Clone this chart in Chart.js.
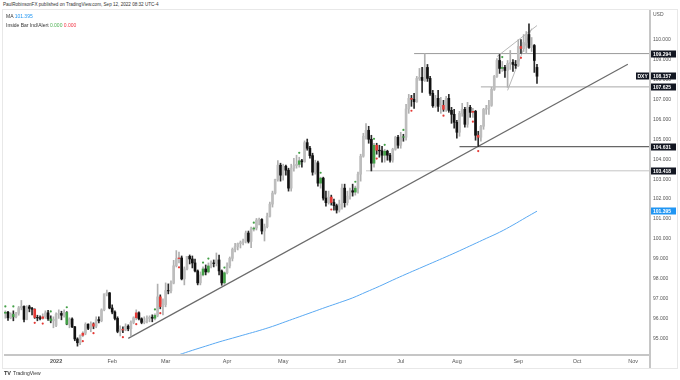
<!DOCTYPE html>
<html>
<head>
<meta charset="utf-8">
<script src="https://cdn.jsdelivr.net/npm/chart.js@4.4.0/dist/chart.umd.min.js"></script>
<style>
  body { margin: 0; width: 680px; height: 380px; background: #fff; position: relative; overflow: hidden;
         font-family: 'Liberation Sans', Arial, sans-serif; }
  #pub { position: absolute; left: 3px; top: 2px; font-size: 4.6px; color: #333; white-space: nowrap; }
  #frame { position: absolute; left: 2px; top: 9px; width: 676px; height: 360px; border: 1px solid #e8e8e8; box-sizing: border-box; }
  #legend { position: absolute; left: 6px; top: 12px; font-size: 5px; color: #333; line-height: 9px; white-space: nowrap; }
  #foot { position: absolute; left: 4px; top: 370px; font-size: 5px; color: #333; white-space: nowrap; }
  #foot b { font-size: 5.5px; margin-right: 2px; }
  canvas { position: absolute; left: 0; top: 0; }
</style>
</head>
<body>
<div id="pub">PaulRobinsonFX published on TradingView.com, Sep 12, 2022 08:32 UTC-4</div>
<div id="frame"></div>
<canvas id="chart" width="680" height="380"></canvas>
<div id="legend">
  <div>MA <span style="color:#2196f3">101.395</span></div>
  <div>Inside Bar Ind/Alert <span style="color:#4caf50">0.000</span> <span style="color:#f23645">0.000</span></div>
</div>
<div id="foot"><b>TV</b>TradingView</div>
<script>
// daily OHLC [open, high, low, close], one small list per month
const dec21 = [
  [96.28, 96.40, 96.03, 96.33], [96.33, 96.38, 95.92, 96.05], [96.05, 96.30, 96.00, 96.23], [96.23, 96.40, 95.90, 96.10],
  [96.10, 96.32, 96.05, 96.28], [96.28, 96.62, 96.18, 96.55], [96.55, 96.92, 96.45, 96.62], [96.62, 96.65, 95.85, 95.97],
  [95.97, 96.66, 95.95, 96.60], [96.60, 96.68, 96.35, 96.52], [96.52, 96.58, 96.20, 96.48], [96.48, 96.50, 96.02, 96.07],
  [96.07, 96.18, 95.90, 96.05], [96.05, 96.15, 95.95, 96.02], [96.02, 96.25, 95.98, 96.10], [96.10, 96.40, 96.02, 96.30],
  [96.30, 96.42, 95.92, 96.00], [96.00, 96.15, 95.80, 95.90], [95.90, 96.10, 95.55, 95.97]
];
const jan22 = [
  [95.67, 96.30, 95.60, 96.22], [96.22, 96.45, 96.02, 96.27], [96.27, 96.38, 95.95, 96.18], [96.18, 96.45, 96.08, 96.32],
  [96.32, 96.36, 95.70, 95.73], [95.73, 96.05, 95.55, 95.99], [95.99, 96.05, 95.55, 95.60], [95.60, 95.62, 94.90, 94.99],
  [94.99, 95.05, 94.63, 94.80], [94.80, 95.20, 94.70, 95.17], [95.17, 95.35, 95.10, 95.28], [95.28, 95.80, 95.20, 95.73],
  [95.73, 95.75, 95.45, 95.52], [95.52, 95.85, 95.35, 95.75], [95.75, 95.80, 95.50, 95.63], [95.63, 96.10, 95.55, 95.96],
  [95.96, 96.10, 95.80, 95.90], [95.90, 96.50, 95.85, 96.45], [96.45, 97.25, 96.40, 97.25], [97.25, 97.44, 97.15, 97.30],
  [97.30, 97.32, 96.50, 96.54]
];
const feb22 = [
  [96.54, 96.70, 96.25, 96.34], [96.34, 96.40, 95.95, 96.02], [96.02, 96.10, 95.30, 95.37], [95.37, 95.65, 95.14, 95.48],
  [95.48, 95.60, 95.30, 95.44], [95.44, 95.75, 95.40, 95.63], [95.63, 95.70, 95.40, 95.50], [95.50, 95.90, 95.14, 95.82],
  [95.82, 96.10, 95.75, 96.05], [96.05, 96.45, 95.95, 96.30], [96.30, 96.35, 95.95, 96.00], [96.00, 96.05, 95.75, 95.82],
  [95.82, 96.10, 95.75, 95.88], [95.88, 96.15, 95.80, 96.02], [96.02, 96.15, 95.85, 96.08], [96.08, 96.20, 95.85, 96.03],
  [96.03, 96.25, 95.95, 96.17], [96.17, 97.74, 96.10, 97.10], [97.10, 97.20, 96.50, 96.61], [96.61, 97.00, 96.20, 96.71]
];
const mar22 = [
  [96.71, 97.80, 96.60, 97.42], [97.42, 97.75, 97.25, 97.40], [97.40, 97.90, 97.30, 97.79], [97.79, 98.93, 97.75, 98.66],
  [98.66, 99.42, 98.60, 99.02], [99.02, 99.35, 98.80, 99.05], [99.05, 99.15, 97.95, 98.00], [98.00, 98.60, 97.70, 98.50],
  [98.50, 99.10, 98.45, 99.13], [99.13, 99.20, 98.75, 99.00], [99.00, 99.15, 98.55, 98.80], [98.80, 99.00, 98.35, 98.40],
  [98.40, 98.45, 97.70, 97.80], [97.80, 98.35, 97.70, 98.20], [98.20, 98.60, 98.15, 98.50], [98.50, 98.70, 98.20, 98.35],
  [98.35, 98.80, 98.30, 98.65], [98.65, 98.90, 98.55, 98.80], [98.80, 98.95, 98.60, 98.77], [98.77, 99.30, 98.65, 98.95],
  [98.95, 99.20, 98.20, 98.40], [98.40, 98.45, 97.68, 97.80], [97.80, 98.35, 97.72, 98.31]
];
const apr22 = [
  [98.31, 98.80, 98.25, 98.65], [98.65, 99.10, 98.55, 99.03], [99.03, 99.55, 98.90, 99.48], [99.48, 99.78, 99.35, 99.62],
  [99.62, 99.80, 99.45, 99.77], [99.77, 99.90, 99.55, 99.82], [99.82, 100.00, 99.70, 99.90], [99.90, 100.40, 99.80, 100.30],
  [100.30, 100.40, 99.80, 99.88], [99.88, 100.60, 99.57, 100.50], [100.50, 100.60, 100.40, 100.55], [100.55, 101.03, 100.45, 100.95],
  [100.95, 101.05, 100.70, 100.98], [100.98, 101.02, 100.25, 100.40], [100.40, 100.75, 99.90, 100.62], [100.62, 101.30, 100.55, 101.14],
  [101.14, 101.85, 101.10, 101.75], [101.75, 102.40, 101.60, 102.30], [102.30, 103.00, 102.25, 102.98], [102.98, 103.93, 102.90, 103.70],
  [103.70, 103.80, 102.90, 103.20]
];
const may22 = [
  [103.20, 103.75, 102.95, 103.65], [103.65, 103.70, 103.20, 103.45], [103.45, 103.55, 102.40, 102.55], [102.55, 103.75, 102.40, 103.55],
  [103.55, 104.05, 103.40, 103.68], [103.68, 104.20, 103.55, 103.74], [103.74, 104.10, 103.60, 103.92], [103.92, 104.00, 103.60, 103.87],
  [103.87, 104.92, 103.85, 104.83], [104.83, 105.01, 104.45, 104.55], [104.55, 104.65, 104.05, 104.18], [104.18, 104.30, 103.20, 103.35],
  [103.35, 103.95, 103.25, 103.82], [103.82, 103.90, 102.65, 102.80], [102.80, 103.10, 102.55, 103.05], [103.05, 103.10, 101.95, 102.05],
  [102.05, 102.40, 101.65, 101.82], [101.82, 102.40, 101.75, 102.10], [102.10, 102.20, 101.70, 101.83], [101.83, 102.00, 101.45, 101.67],
  [101.67, 101.75, 101.30, 101.45], [101.45, 101.95, 101.35, 101.75]
];
const jun22 = [
  [101.75, 102.75, 101.50, 102.55], [102.55, 102.75, 101.60, 101.82], [101.82, 102.40, 101.70, 102.15], [102.15, 102.55, 102.00, 102.42],
  [102.42, 102.75, 102.15, 102.35], [102.35, 102.65, 102.20, 102.55], [102.55, 103.35, 102.30, 103.25], [103.25, 104.25, 102.90, 104.15],
  [104.15, 105.30, 104.10, 105.15], [105.15, 105.79, 105.00, 105.45], [105.45, 105.65, 104.80, 105.00], [105.00, 105.20, 103.41, 103.80],
  [103.80, 104.80, 103.60, 104.70], [104.70, 104.80, 104.25, 104.45], [104.45, 104.70, 104.10, 104.42], [104.42, 104.65, 103.85, 104.20],
  [104.20, 104.50, 103.85, 104.40], [104.40, 104.45, 103.95, 104.20], [104.20, 104.30, 103.85, 103.95], [103.95, 104.55, 103.85, 104.50],
  [104.50, 105.15, 104.45, 105.10], [105.10, 105.20, 104.55, 104.70]
];
const jul22 = [
  [104.70, 105.35, 104.55, 105.13], [105.13, 105.25, 104.90, 105.10], [105.10, 106.75, 104.95, 106.52], [106.52, 107.25, 106.30, 107.05],
  [107.05, 107.20, 106.65, 107.00], [107.00, 107.30, 106.55, 106.88], [106.88, 108.15, 106.85, 108.05], [108.05, 108.55, 107.95, 108.10],
  [108.10, 108.60, 107.35, 107.95], [107.95, 109.29, 107.90, 108.60], [108.60, 108.75, 107.90, 108.05], [108.05, 108.15, 107.20, 107.30],
  [107.30, 107.45, 106.60, 106.68], [106.68, 107.20, 106.60, 107.05], [107.05, 107.45, 106.40, 106.65], [106.65, 107.10, 106.30, 106.70],
  [106.70, 106.95, 106.40, 106.50], [106.50, 107.15, 106.40, 107.05], [107.05, 107.25, 106.35, 106.45], [106.45, 106.60, 105.80, 106.25],
  [106.25, 106.50, 105.55, 105.85]
];
const aug22 = [
  [105.85, 105.95, 105.05, 105.35], [105.35, 106.40, 105.15, 106.30], [106.30, 106.80, 106.15, 106.50], [106.50, 106.60, 105.60, 105.75],
  [105.75, 106.85, 105.60, 106.60], [106.60, 106.70, 106.10, 106.35], [106.35, 106.55, 106.10, 106.40], [106.40, 106.45, 104.95, 105.20],
  [105.20, 105.40, 104.63, 105.10], [105.10, 105.70, 104.90, 105.65], [105.65, 106.55, 105.50, 106.50], [106.50, 106.70, 106.25, 106.55],
  [106.55, 106.95, 106.25, 106.70], [106.70, 107.60, 106.65, 107.50], [107.50, 108.20, 107.45, 108.15], [108.15, 109.05, 108.10, 108.95],
  [108.95, 109.25, 108.30, 108.55], [108.55, 108.90, 108.40, 108.60], [108.60, 108.70, 108.10, 108.45], [108.45, 108.95, 107.60, 108.80],
  [108.80, 109.45, 108.50, 108.85], [108.85, 109.00, 108.40, 108.75], [108.75, 108.95, 108.55, 108.70]
];
const sep22 = [
  [108.70, 109.99, 108.65, 109.65], [109.65, 110.00, 109.30, 109.55], [109.55, 110.25, 109.40, 109.85], [109.85, 110.40, 109.30, 110.25],
  [110.25, 110.79, 109.55, 109.60], [109.60, 110.10, 109.40, 109.70], [109.70, 109.75, 108.35, 108.95], [108.60, 108.75, 107.80, 108.16]
];

// 200-day MA
const maDates = ['2022-03-03', '2022-03-08', '2022-03-15', '2022-03-22', '2022-03-29', '2022-04-05', '2022-04-12', '2022-04-19',
  '2022-04-26', '2022-05-03', '2022-05-10', '2022-05-17', '2022-05-24', '2022-05-31', '2022-06-07', '2022-06-14', '2022-06-21',
  '2022-06-28', '2022-07-05', '2022-07-12', '2022-07-19', '2022-07-26', '2022-08-02', '2022-08-09', '2022-08-16', '2022-08-23',
  '2022-08-30', '2022-09-06', '2022-09-12'];
const maValues = [94.08, 94.20, 94.42, 94.63, 94.84, 95.03, 95.22, 95.41, 95.62, 95.86, 96.10, 96.34, 96.58, 96.81, 97.05, 97.34,
  97.63, 97.94, 98.24, 98.53, 98.82, 99.11, 99.41, 99.72, 100.03, 100.34, 100.70, 101.09, 101.395];

// drawn levels: price and the day the line starts
const levelPrices = [109.294, 107.625, 104.631, 103.418];
const levelStarts = ['2022-07-08', '2022-08-12', '2022-08-02', '2022-06-14'];
const levelColors = ['#9a9a9a', '#a8a8a8', '#666666', '#c4c4c4'];
const lastPrice = 108.157;
const maLast = 101.395;

// trend line and wedge: [date, price] endpoints
const trendLine = [['2022-02-09', 95.02], ['2022-10-28', 108.76]];
const wedgeUpper = [['2022-08-22', 109.14], ['2022-09-12', 110.70]];
const wedgeLower = [['2022-08-26', 107.45], ['2022-09-08', 110.55]];

// inside bar indicator hits
const insideUp = ['2021-12-07', '2021-12-10', '2021-12-30', '2022-01-07', '2022-02-23', '2022-03-21', '2022-03-23', '2022-03-31',
  '2022-04-15', '2022-05-10', '2022-05-20', '2022-06-08', '2022-06-17', '2022-06-23', '2022-07-04', '2022-08-24'];
const insideDown = ['2021-12-22', '2021-12-27', '2022-01-17', '2022-01-21', '2022-02-07', '2022-02-14', '2022-02-25', '2022-03-08',
  '2022-05-26', '2022-06-20', '2022-07-07', '2022-07-25', '2022-08-09', '2022-08-11', '2022-09-02'];

const tickDates = ['2022-01-03', '2022-02-01', '2022-03-01', '2022-04-01', '2022-05-02', '2022-06-01', '2022-07-01', '2022-08-01',
  '2022-09-01', '2022-10-03', '2022-11-01'];
const tickLabels = ['2022', 'Feb', 'Mar', 'Apr', 'May', 'Jun', 'Jul', 'Aug', 'Sep', 'Oct', 'Nov'];
const priceTicks = [95, 96, 97, 98, 99, 100, 101, 102, 103, 104, 105, 106, 107, 108, 109, 110];

// weekday calendar from the first bar
const days = [];
for (let d = new Date(Date.UTC(2021, 11, 7)); days.length < 245; d.setUTCDate(d.getUTCDate() + 1)) {
  const wd = d.getUTCDay();
  if (wd !== 0 && wd !== 6) days.push(d.toISOString().slice(0, 10));
}
const dayIdx = s => days.indexOf(s);

const candles = [].concat(dec21, jan22, feb22, mar22, apr22, may22, jun22, jul22, aug22, sep22);
const upSet = new Set(insideUp.map(dayIdx));
const downSet = new Set(insideDown.map(dayIdx));

const bodyColors = candles.map((c, i) => upSet.has(i) ? '#43a047' : downSet.has(i) ? '#e53935' : (c[3] >= c[0] ? '#bdbdbd' : '#111111'));
const wickColors = candles.map(c => c[3] >= c[0] ? '#b0b0b0' : '#2a2a2a');

const pts = arr => arr.map(p => ({ x: dayIdx(p[0]), y: p[1] }));
const lineDs = (data, color, width) => ({
  type: 'line', data, borderColor: color, borderWidth: width, pointRadius: 0, fill: false, tension: 0
});

const datasets = [
  { type: 'bar', data: candles.map((c, i) => ({ x: i, y: [c[0], c[3]] })), backgroundColor: bodyColors, barThickness: 2, grouped: false, order: 1 },
  { type: 'bar', data: candles.map((c, i) => ({ x: i, y: [c[2], c[1]] })), backgroundColor: wickColors, barThickness: 1, grouped: false, order: 2 },
  { type: 'scatter', data: insideUp.map(s => ({ x: dayIdx(s), y: candles[dayIdx(s)][1] + 0.22 })), backgroundColor: '#43a047', pointRadius: 1.1, borderWidth: 0, order: 0 },
  { type: 'scatter', data: insideDown.map(s => ({ x: dayIdx(s), y: candles[dayIdx(s)][2] - 0.22 })), backgroundColor: '#e53935', pointRadius: 1.1, borderWidth: 0, order: 0 },
  Object.assign(lineDs(maDates.map((s, i) => ({ x: dayIdx(s), y: maValues[i] })), '#5aa9f2', 1), { tension: 0.4, order: 3 }),
  Object.assign(lineDs(pts(trendLine), '#6b6b6b', 1.2), { order: 3 }),
  Object.assign(lineDs(pts(wedgeUpper), '#b0b0b0', 0.9), { order: 3 }),
  Object.assign(lineDs(pts(wedgeLower), '#b0b0b0', 0.9), { order: 3 })
];
levelPrices.forEach((p, i) => {
  datasets.push(Object.assign(lineDs([{ x: dayIdx(levelStarts[i]), y: p }, { x: 250, y: p }], levelColors[i], i === 2 ? 1.4 : 1), { order: 4 }));
});

const overlay = {
  id: 'overlay',
  afterDraw(chart) {
    const ctx = chart.ctx, y = chart.scales.y, a = chart.chartArea;
    ctx.save();
    ctx.strokeStyle = '#c6c6c6';
    ctx.lineWidth = 2;
    ctx.beginPath();
    ctx.moveTo(a.right, a.top); ctx.lineTo(a.right, 368);
    ctx.moveTo(a.left, a.bottom); ctx.lineTo(a.right, a.bottom);
    ctx.stroke();

    ctx.font = '5px "Liberation Sans", Arial, sans-serif';
    ctx.fillStyle = '#555';
    ctx.textBaseline = 'middle';
    ctx.fillText('USD', a.right + 3, 15);

    const box = (price, bg) => {
      const py = Math.round(y.getPixelForValue(price));
      ctx.fillStyle = bg;
      ctx.fillRect(a.right + 1, py - 3.5, 25, 7);
      ctx.fillStyle = '#fff';
      ctx.font = 'bold 5px "Liberation Sans", Arial, sans-serif';
      ctx.fillText(price.toFixed(3), a.right + 3, py + 0.3);
      return py;
    };
    levelPrices.forEach(p => box(p, '#131722'));
    const ly = box(lastPrice, '#131722');
    ctx.fillStyle = '#131722';
    ctx.fillRect(a.right - 14, ly - 3.5, 13, 7);
    ctx.fillStyle = '#fff';
    ctx.fillText('DXY', a.right - 12.5, ly + 0.3);
    box(maLast, '#2196f3');
    ctx.restore();
  }
};

new Chart(document.getElementById('chart'), {
  type: 'bar',
  data: { datasets },
  options: {
    responsive: false,
    animation: false,
    devicePixelRatio: 1,
    layout: { padding: { left: 3, top: 10, right: 2, bottom: 12 } },
    plugins: { legend: { display: false }, tooltip: { enabled: false } },
    scales: {
      x: {
        type: 'linear', min: -0.5, max: 241.3, offset: false,
        grid: { display: false, drawTicks: false }, border: { display: false },
        afterBuildTicks: s => { s.ticks = tickDates.map(d => ({ value: dayIdx(d) })); },
        afterFit: s => { s.height = 13; },
        ticks: {
          autoSkip: false, maxRotation: 0, padding: 3, color: '#555',
          font: c => ({ size: 5.5, family: '"Liberation Sans", Arial, sans-serif', weight: c.index === 0 ? 'bold' : 'normal' }),
          callback: v => tickLabels[tickDates.map(dayIdx).indexOf(v)]
        }
      },
      y: {
        position: 'right', min: 94.186, max: 111.479,
        grid: { display: false, drawTicks: false }, border: { display: false },
        afterBuildTicks: s => { s.ticks = priceTicks.map(v => ({ value: v })); },
        afterFit: s => { s.width = 28; },
        ticks: {
          padding: 3, color: '#555',
          font: { size: 5, family: '"Liberation Sans", Arial, sans-serif' },
          callback: v => v.toFixed(3)
        }
      }
    }
  },
  plugins: [overlay]
});
</script>
</body>
</html>
